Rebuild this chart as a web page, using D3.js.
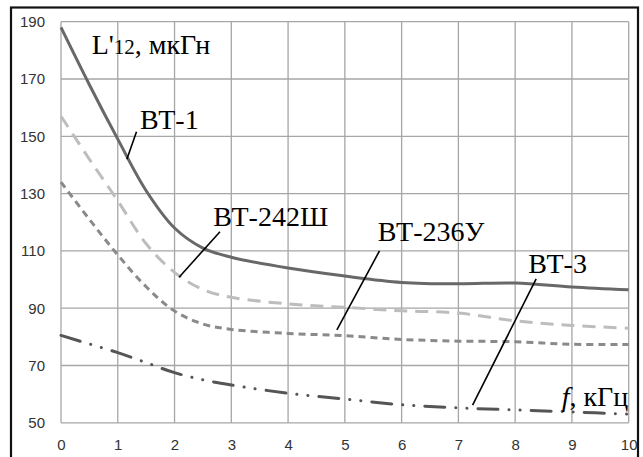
<!DOCTYPE html>
<html lang="ru">
<head>
    <meta charset="UTF-8">
    <title>L'12 vs f</title>
    <script src="https://d3js.org/d3.v7.min.js"></script>
    <style>
        body { margin: 0; background: #fff; }
        .axis text { font-family: "Liberation Sans", Arial, sans-serif; font-size: 15px; fill: #333; }
    </style>
</head>
<body>
<div id="chart"></div>
<script>
// frequency, kHz
var freq = [0, 0.5, 1, 1.5, 2, 2.5, 3, 4, 5, 6, 7, 8, 9, 10];
// L'12, uH for each alloy
var bt1   = [188, 168, 149, 131, 118, 111, 107.8, 104, 101.2, 99, 98.5, 98.8, 97.4, 96.4];
var bt242 = [157, 142, 127.5, 112.5, 102.5, 96.5, 93.8, 91.5, 90.3, 89.1, 88.3, 85.6, 84, 83];
var bt236 = [134, 121, 108.6, 97.5, 89, 84.5, 82.6, 81.2, 80.4, 79.1, 78.5, 78.3, 77.4, 77.3];
var bt3   = [80.5, 77.5, 74.5, 71, 67.5, 65, 63.2, 60.3, 58.3, 56.3, 55.2, 54.5, 53.8, 53];
var xTicks = [0, 1, 2, 3, 4, 5, 6, 7, 8, 9, 10];
var yTicks = [50, 70, 90, 110, 130, 150, 170, 190];

var series = [
    {name: "ВТ-1",    values: bt1,   color: "#686868", dash: null},
    {name: "ВТ-242Ш", values: bt242, color: "#bdbdbd", dash: "13,8"},
    {name: "ВТ-236У", values: bt236, color: "#8a8a8a", dash: "7,5"},
    {name: "ВТ-3",    values: bt3,   color: "#555555", dash: "20,11,0.1,11,0.1,11"}
];

// callouts in data units: label spot and leader line
var callouts = [
    {text: "ВТ-1",    x: 1.39, y: 152.4, from: [1.33, 151.6], to: [1.16, 142]},
    {text: "ВТ-242Ш", x: 2.68, y: 118.8, from: [2.80, 116.7], to: [2.08, 100.8]},
    {text: "ВТ-236У", x: 5.58, y: 113.5, from: [5.61, 110],   to: [4.86, 82.4]},
    {text: "ВТ-3",    x: 8.23, y: 102.2, from: [8.37, 100.2], to: [7.25, 56.2]}
];

var serif = '"Liberation Serif", "Times New Roman", serif';

var W = 643, H = 457,
    margin = {top: 21.7, right: 14.3, bottom: 34.2, left: 61},
    width = W - margin.left - margin.right,
    height = H - margin.top - margin.bottom;

var svg = d3.select("#chart").append("svg")
    .attr("width", W)
    .attr("height", H);

// outer frame
svg.append("rect")
    .attr("x", 11).attr("y", 7.5)
    .attr("width", 627).attr("height", 470)
    .attr("fill", "none")
    .attr("stroke", "#111")
    .attr("stroke-width", 2.2);

var x = d3.scaleLinear().domain([0, 10]).range([0, width]),
    y = d3.scaleLinear().domain([50, 190]).range([height, 0]);

var g = svg.append("g")
    .attr("transform", "translate(" + margin.left + "," + margin.top + ")");

// grid
g.selectAll(".vgrid").data(xTicks).enter().append("line")
    .attr("x1", function(d) { return x(d); })
    .attr("x2", function(d) { return x(d); })
    .attr("y1", 0).attr("y2", height)
    .attr("stroke", "#a6a6a6").attr("stroke-width", 1.3);
g.selectAll(".hgrid").data(yTicks).enter().append("line")
    .attr("y1", function(d) { return y(d); })
    .attr("y2", function(d) { return y(d); })
    .attr("x1", 0).attr("x2", width)
    .attr("stroke", "#a6a6a6").attr("stroke-width", 1.3);

// axes (labels only)
g.append("g")
    .attr("class", "axis")
    .attr("transform", "translate(0," + height + ")")
    .call(d3.axisBottom(x).tickValues(xTicks).tickSize(0).tickPadding(17).tickFormat(d3.format("d")))
    .call(function(a) { a.select(".domain").remove(); });

g.append("g")
    .attr("class", "axis")
    .call(d3.axisLeft(y).tickValues(yTicks).tickSize(0).tickPadding(16))
    .call(function(a) { a.select(".domain").remove(); });

// curves
var line = d3.line()
    .x(function(d, i) { return x(freq[i]); })
    .y(function(d) { return y(d); })
    .curve(d3.curveCatmullRom.alpha(0.5));

g.selectAll(".curve").data(series).enter().append("path")
    .attr("class", "curve")
    .attr("d", function(d) { return line(d.values); })
    .attr("fill", "none")
    .attr("stroke", function(d) { return d.color; })
    .attr("stroke-width", 3)
    .attr("stroke-linecap", function(d) { return d.name == "ВТ-3" ? "round" : "butt"; })
    .attr("stroke-dasharray", function(d) { return d.dash; });

// leader lines and labels
g.selectAll(".lead").data(callouts).enter().append("line")
    .attr("x1", function(d) { return x(d.from[0]); })
    .attr("y1", function(d) { return y(d.from[1]); })
    .attr("x2", function(d) { return x(d.to[0]); })
    .attr("y2", function(d) { return y(d.to[1]); })
    .attr("stroke", "#000").attr("stroke-width", 1.6);

g.selectAll(".note").data(callouts).enter().append("text")
    .attr("class", "note")
    .attr("x", function(d) { return x(d.x); })
    .attr("y", function(d) { return y(d.y); })
    .attr("font-family", serif)
    .attr("font-size", 28)
    .attr("fill", "#000")
    .text(function(d) { return d.text; });

// axis titles
var yTitle = g.append("text")
    .attr("x", x(0.54))
    .attr("y", y(178.6))
    .attr("font-family", serif)
    .attr("font-size", 28)
    .attr("fill", "#000");
yTitle.append("tspan").text("L'");
yTitle.append("tspan").attr("font-size", 21).text("12");
yTitle.append("tspan").text(", мкГн");

var xTitle = g.append("text")
    .attr("x", x(8.82))
    .attr("y", y(55.9))
    .attr("font-family", serif)
    .attr("font-size", 28)
    .attr("fill", "#000");
xTitle.append("tspan").attr("font-style", "italic").text("f");
xTitle.append("tspan").text(", кГц");
</script>
</body>
</html>
